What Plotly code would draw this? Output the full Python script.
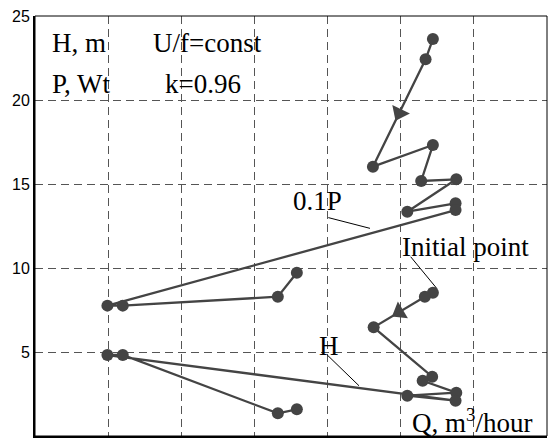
import plotly.graph_objects as go

# Flow rate Q (grid units) and values along the transient path
q_p = [5.44, 5.34, 4.62, 5.44, 5.28, 5.76, 5.09, 5.75, 5.75, 0.99, 1.20, 3.32, 3.58]
p01 = [23.63, 22.42, 16.03, 17.32, 15.18, 15.28, 13.35, 13.85, 13.45, 7.76, 7.76, 8.29, 9.72]

q_h = [5.44, 5.33, 4.63, 5.43, 5.30, 5.76, 5.09, 5.75, 0.99, 1.20, 3.32, 3.58]
h_m = [8.53, 8.29, 6.47, 3.53, 3.29, 2.58, 2.40, 2.10, 4.82, 4.82, 1.35, 1.59]

y_ticks = [0, 5, 10, 15, 20, 25]

DARK = "#444444"
SERIF = "Liberation Serif"

fig = go.Figure()

for xs, ys, name in [(q_p, p01, "0.1P"), (q_h, h_m, "H")]:
    fig.add_trace(go.Scatter(
        x=xs, y=ys, mode="lines+markers", name=name,
        line=dict(color=DARK, width=2.3),
        marker=dict(color=DARK, size=12),
        showlegend=False, hoverinfo="skip"))
    # direction arrow halfway between 2nd and 3rd points
    mx = (xs[1] + xs[2]) / 2
    my = (ys[1] + ys[2]) / 2
    fig.add_trace(go.Scatter(
        x=[xs[1], mx], y=[ys[1], my], mode="markers",
        marker=dict(symbol="triangle-up", size=[0, 17], color=DARK,
                    opacity=[0, 1], angleref="previous", line=dict(width=0)),
        showlegend=False, hoverinfo="skip"))

texts = [
    ("H, m", 0.20, 23.38),
    ("U/f=const", 1.582, 23.38),
    ("P, Wt", 0.20, 20.95),
    ("k=0.96", 1.75, 20.95),
    ("0.1P", 3.504, 13.97),
    ("Initial point", 4.986, 11.25),
    ("H", 3.856, 5.37),
    ("Q, m<sup>3</sup>/hour", 5.131, 0.875),
]
for t, x, y in texts:
    fig.add_annotation(x=x, y=y, xref="x", yref="y", text=t, showarrow=False,
                       xanchor="left", yanchor="middle",
                       font=dict(family=SERIF, size=27, color="black"))

leaders = [
    (4.01, 13.0, 4.58, 12.36),
    (5.136, 10.67, 5.492, 8.79),
    (3.996, 4.82, 4.43, 2.99),
]
for x0, y0, x1, y1 in leaders:
    fig.add_shape(type="line", xref="x", yref="y", x0=x0, y0=y0, x1=x1, y1=y1,
                  line=dict(color="black", width=1))

fig.add_shape(type="rect", xref="paper", yref="paper", x0=0, y0=0, x1=1, y1=1,
              line=dict(color="black", width=1), layer="above")

grid = dict(showgrid=True, gridcolor="#555555", gridwidth=1, griddash="8px,5px",
            zeroline=False, showline=True, linecolor="black", linewidth=2,
            ticks="")

fig.update_layout(
    width=554, height=443,
    margin=dict(l=35, r=7, t=16, b=7),
    paper_bgcolor="white", plot_bgcolor="white",
    xaxis=dict(range=[0, 7], dtick=1, showticklabels=False, **grid),
    yaxis=dict(range=[0, 25], tickvals=y_ticks, ticktext=[str(v) for v in y_ticks],
               tickfont=dict(family="Liberation Sans", size=16, color="black"),
               **grid),
)

fig.write_html("out.html")
